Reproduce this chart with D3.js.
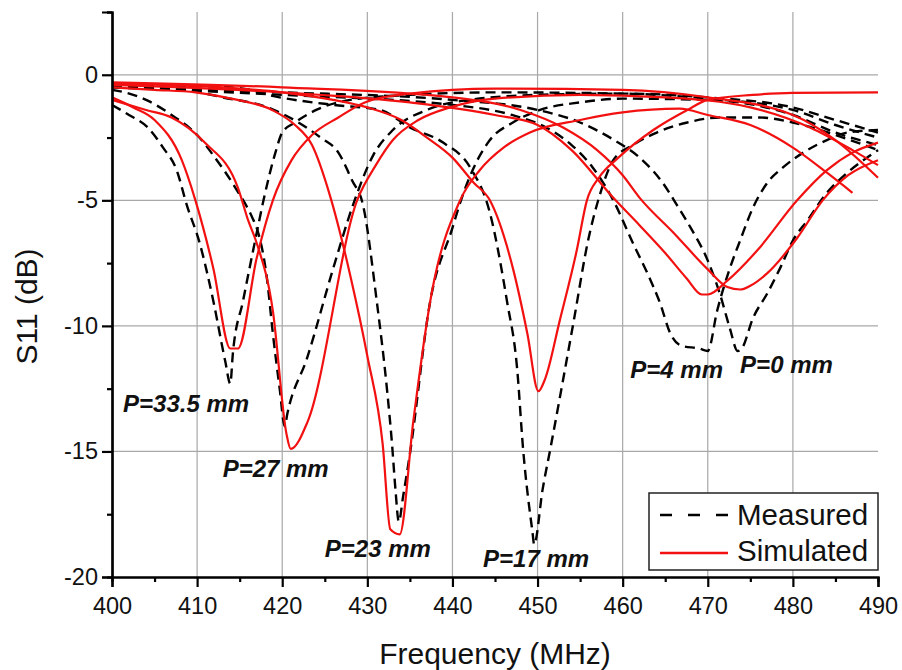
<!DOCTYPE html>
<html>
<head>
<meta charset="utf-8">
<script src="https://cdn.jsdelivr.net/npm/d3@7"></script>
<style>
  html, body { margin: 0; padding: 0; background: #fff; }
  svg { display: block; }
</style>
</head>
<body>
<svg id="chart" width="902" height="670"></svg>
<script>
// Axis ticks
const xTicks = [400, 410, 420, 430, 440, 450, 460, 470, 480, 490];
const yTicks = [0, -5, -10, -15, -20];

// Measured S11 (dB) vs frequency (MHz), one array per position P
const measP335 = [[400,-1.2],[402,-1.6],[404.2,-2.1],[406,-2.9],[407.6,-3.8],[408.8,-5.2],[410.3,-6.7],[411.9,-9],[413.3,-11.4],[413.9,-12.3],[414.2,-11.1],[415.4,-9],[417,-6.3],[417.8,-5],[419.2,-3.1],[420,-2.3],[421.5,-1.9],[424,-1.4],[428,-1.0],[435,-0.8],[445,-0.7],[460,-0.75],[470,-0.95],[480,-1.4],[485,-2.0],[490,-2.5]];
const measP27 = [[400,-0.6],[401.5,-0.7],[404,-1.0],[407,-1.6],[410,-2.4],[412.1,-3.3],[414.5,-4.5],[416.5,-5.7],[417,-6.1],[418.2,-8.1],[418.9,-10.3],[419.7,-12.5],[420.3,-14],[420.6,-13.5],[422.9,-11.3],[426,-7.7],[428.3,-5.2],[430.7,-3.2],[433,-2.2],[437,-1.4],[440,-1.1],[450,-0.8],[460,-0.75],[470,-0.9],[480,-1.3],[485,-1.8],[490,-2.3]];
const measP23 = [[400,-0.4],[405,-0.5],[408.6,-0.6],[413,-0.9],[418.3,-1.3],[421.9,-1.9],[424.5,-2.5],[426.6,-3.1],[428.2,-4.2],[429.5,-5.2],[431.1,-9],[432.3,-12.5],[432.9,-14.7],[433.3,-16.5],[433.7,-17.8],[434.2,-16.8],[435,-15.1],[437.4,-9],[440,-6.1],[441,-5],[442.5,-3.7],[444.4,-2.6],[447.1,-1.9],[450.3,-1.4],[455,-1.1],[460,-0.95],[470,-1.0],[480,-1.6],[485,-2.3],[490,-2.8]];
const measP17 = [[400,-0.4],[410,-0.45],[415.4,-0.55],[419,-0.85],[426,-1.2],[431.5,-1.4],[435,-2.1],[438.9,-2.7],[442.1,-3.7],[444.4,-5.5],[446.4,-9],[447.6,-11.7],[448.3,-14.9],[449.4,-18.2],[449.6,-18.7],[450.6,-16.5],[451.5,-14.9],[454.2,-9.9],[456,-6.5],[457.3,-4.8],[458.9,-3.4],[461.2,-2.8],[464,-2.3],[467.6,-1.9],[471.4,-1.7],[476,-1.7],[480,-1.9],[485,-2.4],[490,-3.0]];
const measP4 = [[400,-0.5],[420,-0.8],[440,-1.2],[447,-1.6],[451,-2.1],[454,-2.8],[456.5,-3.7],[458.9,-5],[461.2,-6.7],[462.9,-7.9],[464.4,-9.1],[465.6,-10.3],[467,-10.8],[469,-10.9],[470,-11],[471.1,-9.4],[472.6,-7.7],[473.8,-6.6],[475.3,-5.3],[477,-4.3],[478.8,-3.7],[481.7,-3.0],[484,-2.6],[486.4,-2.3],[490,-2.2]];
const measP0 = [[400,-0.5],[420,-0.7],[440,-1.0],[450,-1.4],[455,-1.9],[459,-2.6],[462,-3.3],[464.7,-4.3],[466.4,-5.2],[468,-6.1],[470,-7.4],[471.4,-8.7],[472.6,-10.1],[473.5,-11],[474,-10.9],[475.3,-9.7],[477,-8.7],[478.5,-7.7],[480,-6.6],[481.7,-5.8],[484,-4.7],[486.4,-3.9],[488.7,-3.3],[490,-3.0]];

// Simulated S11 (dB) vs frequency (MHz)
const simP335 = [[400,-0.9],[402.5,-1.3],[405,-1.8],[408.2,-3.4],[409.8,-5],[411.9,-7.7],[413.9,-10.9],[414.8,-10.9],[417,-7.3],[418.9,-5],[421.1,-3.4],[423.5,-2.4],[426.6,-1.7],[429.7,-1.1],[435,-0.75],[445,-0.55],[460,-0.6],[470,-0.9],[480,-1.6],[485,-2.6],[490,-4.1]];
const simP27 = [[400,-1.0],[404,-1.4],[407,-1.7],[410.9,-2.7],[414.8,-4.5],[416,-5.8],[417,-6.7],[418.9,-9.4],[420.5,-14.3],[421,-14.9],[423,-13.8],[428.8,-5],[431,-3.6],[433,-2.6],[436,-1.8],[439.7,-1.3],[445,-0.95],[455,-0.8],[465,-0.9],[475,-1.3],[482,-2.1],[487,-3.0],[490,-3.6]];
const simP23 = [[400,-0.5],[405,-0.6],[409.8,-0.7],[414,-0.95],[418.8,-1.4],[421.5,-2.0],[423.5,-2.8],[425.6,-4.8],[428,-8],[430,-11.2],[431.8,-14.7],[432.7,-18.1],[433.8,-18.3],[435.4,-13.8],[437.4,-9],[440.9,-5],[443.2,-3.8],[446,-2.9],[449.1,-2.3],[455,-1.8],[460,-1.5],[466.7,-1.35],[470,-1.6],[475,-2.0],[480,-2.9],[484,-3.9],[487,-4.7]];
const simP17 = [[400,-0.35],[410,-0.45],[420,-0.7],[426,-1.0],[430,-1.3],[434,-1.8],[437,-2.5],[440,-3.3],[442.5,-4.3],[444.4,-5],[447.1,-7.7],[448.8,-10.3],[450.1,-12.6],[450.9,-12.1],[452.6,-9.8],[454.6,-7],[455.8,-5],[457.2,-4.1],[459.5,-3.3],[463.6,-2.2],[467.6,-1.4],[470,-1.0],[475.3,-0.8],[480,-0.72],[490,-0.7]];
const simP4 = [[400,-0.4],[420,-0.7],[435,-1.1],[445,-1.6],[450,-2.0],[454,-3.0],[458.9,-4.9],[462,-6.0],[465,-7.1],[467.5,-8.1],[469.3,-8.75],[470,-8.75],[472.3,-8.2],[475.8,-7],[480.5,-5],[484,-3.8],[487,-3.1],[490,-2.7]];
const simP0 = [[400,-0.3],[420,-0.5],[440,-0.9],[448,-1.4],[453,-2.1],[457,-3.0],[460,-4.0],[462,-4.9],[466,-6.3],[470,-7.75],[472.3,-8.45],[473.8,-8.55],[475,-8.4],[477,-7.9],[480.5,-6.5],[483.5,-5],[486.5,-4.0],[490,-3.4]];

const measured = [measP335, measP27, measP23, measP17, measP4, measP0];
const simulated = [simP335, simP27, simP23, simP17, simP4, simP0];

// Curve annotations: text and the (MHz, dB) spot where each one starts
const labelTexts = ["P=33.5 mm", "P=27 mm", "P=23 mm", "P=17 mm", "P=4 mm", "P=0 mm"];
const labelAnchors = [[401.3,-13.42],[413.0,-16.0],[425.0,-19.2],[443.6,-19.6],[460.9,-12.07],[473.8,-11.87]];

const legendNames = ["Measured", "Simulated"];

const svg = d3.select("#chart");
const plotLeft = 112, plotRight = 878, plotTop = 12, plotBottom = 577;

const x = d3.scaleLinear().domain([400, 490]).range([plotLeft, plotRight]);
const y = d3.scaleLinear().domain([-20, 2.5]).range([plotBottom, plotTop]);

const FONT = "'Liberation Sans', Arial, Helvetica, sans-serif";
const gridColor = "#a8a8a8";

// Grid
const grid = svg.append("g");
grid.selectAll("line.v").data(xTicks.filter(d => d > 400 && d < 490)).join("line")
  .attr("class", "v")
  .attr("x1", d => x(d)).attr("x2", d => x(d))
  .attr("y1", plotTop).attr("y2", plotBottom)
  .attr("stroke", gridColor).attr("stroke-width", 1.2);
grid.selectAll("line.h").data(yTicks.filter(d => d > -20)).join("line")
  .attr("class", "h")
  .attr("x1", plotLeft).attr("x2", plotRight)
  .attr("y1", d => y(d)).attr("y2", d => y(d))
  .attr("stroke", gridColor).attr("stroke-width", 1.2);

// Curves
const line = d3.line()
  .x(d => x(d[0])).y(d => y(d[1]))
  .curve(d3.curveMonotoneX);

svg.append("g").selectAll("path").data(measured).join("path")
  .attr("d", line)
  .attr("fill", "none")
  .attr("stroke", "#000")
  .attr("stroke-width", 2.4)
  .attr("stroke-dasharray", "10,6");

svg.append("g").selectAll("path").data(simulated).join("path")
  .attr("d", line)
  .attr("fill", "none")
  .attr("stroke", "#f21010")
  .attr("stroke-width", 2.2);

// Axes (plain hyphen for negative labels)
const xAxis = d3.axisBottom(x).tickValues(xTicks).tickSize(10).tickPadding(10).tickFormat(d => String(d));
const xMinor = d3.axisBottom(x).tickValues(d3.range(405, 490, 10)).tickSize(5).tickFormat("");
const yAxis = d3.axisLeft(y).tickValues(yTicks).tickSize(10).tickPadding(4).tickFormat(d => String(d));
const yMinor = d3.axisLeft(y).tickValues([2.5, -2.5, -7.5, -12.5, -17.5]).tickSize(5).tickFormat("");

function styleAxis(g) {
  g.select(".domain").attr("stroke", "#000").attr("stroke-width", 2.2);
  g.selectAll(".tick line").attr("stroke", "#000").attr("stroke-width", 2.2);
  g.selectAll(".tick text").attr("font-family", FONT).attr("font-size", 23.5).attr("fill", "#111");
}

svg.append("g").attr("transform", `translate(0,${plotBottom})`).call(xMinor).call(styleAxis);
svg.append("g").attr("transform", `translate(0,${plotBottom})`).call(xAxis).call(styleAxis);
svg.append("g").attr("transform", `translate(${plotLeft},0)`).call(yMinor).call(styleAxis);
svg.append("g").attr("transform", `translate(${plotLeft},0)`).call(yAxis).call(styleAxis);

// Axis titles
svg.append("text")
  .attr("x", (plotLeft + plotRight) / 2).attr("y", 664)
  .attr("text-anchor", "middle")
  .attr("font-family", FONT).attr("font-size", 30).attr("fill", "#111")
  .text("Frequency (MHz)");

svg.append("text")
  .attr("transform", `translate(37,${(plotTop + plotBottom) / 2 + 12}) rotate(-90)`)
  .attr("text-anchor", "middle")
  .attr("font-family", FONT).attr("font-size", 30).attr("fill", "#111")
  .text("S11 (dB)");

// Curve labels
svg.append("g").selectAll("text").data(labelTexts).join("text")
  .attr("x", (d, i) => x(labelAnchors[i][0]))
  .attr("y", (d, i) => y(labelAnchors[i][1]))
  .attr("font-family", FONT).attr("font-size", 24)
  .attr("font-weight", "bold").attr("font-style", "italic")
  .attr("fill", "#111")
  .text(d => d);

// Legend
const lg = svg.append("g");
lg.append("rect")
  .attr("x", 649).attr("y", 493).attr("width", 229).attr("height", 77)
  .attr("fill", "#fff").attr("stroke", "#222").attr("stroke-width", 1.5);
lg.append("line")
  .attr("x1", 660).attr("x2", 728).attr("y1", 515).attr("y2", 515)
  .attr("stroke", "#000").attr("stroke-width", 2.4).attr("stroke-dasharray", "12,16");
lg.append("line")
  .attr("x1", 660).attr("x2", 728).attr("y1", 553).attr("y2", 553)
  .attr("stroke", "#f21010").attr("stroke-width", 2.4);
lg.selectAll("text").data(legendNames).join("text")
  .attr("x", 737).attr("y", (d, i) => 525 + i * 36)
  .attr("font-family", FONT).attr("font-size", 29.5).attr("fill", "#111")
  .text(d => d);
</script>
</body>
</html>
